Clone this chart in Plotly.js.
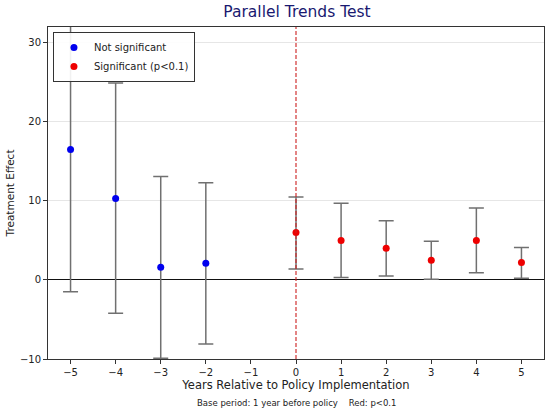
<!DOCTYPE html>
<html>
<head>
<meta charset="utf-8">
<script src="https://cdn.plot.ly/plotly-3.0.1.min.js"></script>
<style>html,body{margin:0;padding:0;background:#fff;}#chart{width:550px;height:412px;}</style>
</head>
<body>
<div id="chart"></div>
<script>
// Data
const years = [-5, -4, -3, -2, 0, 1, 2, 3, 4, 5];
const effects = [16.5, 10.3, 1.6, 2.1, 6.0, 5.0, 4.0, 2.5, 5.0, 2.2];
const ciLow = [-1.5, -4.2, -9.9, -8.1, 1.4, 0.3, 0.5, 0.1, 0.9, 0.2];
const ciHigh = [34.5, 24.9, 13.1, 12.3, 10.5, 9.7, 7.5, 4.9, 9.1, 4.1];
const significant = [false, false, false, false, true, true, true, true, true, true];
const xTicks = [-5, -4, -3, -2, -1, 0, 1, 2, 3, 4, 5];
const yTicks = [-10, 0, 10, 20, 30];
const policyYear = 0;

function subset(flag) {
  const idx = years.map((_, i) => i).filter(i => significant[i] === flag);
  return {
    x: idx.map(i => years[i]),
    y: idx.map(i => effects[i]),
    plus: idx.map(i => ciHigh[i] - effects[i]),
    minus: idx.map(i => effects[i] - ciLow[i])
  };
}

function makeTrace(flag, name, color) {
  const s = subset(flag);
  return {
    type: 'scatter', mode: 'markers', name: name,
    x: s.x, y: s.y,
    marker: {color: color, size: 7},
    error_y: {type: 'data', symmetric: false, array: s.plus, arrayminus: s.minus,
      color: '#707070', thickness: 1.5, width: 7.5}
  };
}

const traces = [
  makeTrace(false, 'Not significant', '#0000ee'),
  makeTrace(true, 'Significant (p<0.1)', '#ee0000')
];

const font = 'DejaVu Sans, sans-serif';
const minus = v => v < 0 ? '\u2212' + Math.abs(v) : String(v);
const layout = {
  width: 550, height: 412,
  margin: {l: 48, r: 6, t: 27, b: 53},
  paper_bgcolor: '#fff', plot_bgcolor: '#fff',
  font: {family: font, color: '#222', size: 10},
  title: {text: 'Parallel Trends Test', font: {family: font, size: 15.5, color: '#191970'},
    x: 0.54, xanchor: 'center', y: 0.972, yanchor: 'middle'},
  showlegend: true,
  legend: {x: 0.01, y: 0.985, xanchor: 'left', yanchor: 'top',
    bordercolor: '#333', borderwidth: 1, bgcolor: 'rgba(255,255,255,0.9)',
    font: {family: font, size: 10, color: '#222'}, tracegroupgap: 0,
    itemsizing: 'trace', itemwidth: 30},
  xaxis: {
    range: [-5.5, 5.5], tickvals: xTicks, ticktext: xTicks.map(minus),
    showgrid: false, zeroline: false,
    showline: true, linecolor: '#333', linewidth: 1, mirror: true,
    ticks: 'outside', ticklen: 4, tickcolor: '#333',
    tickfont: {family: font, size: 10, color: '#222'},
    title: {text: 'Years Relative to Policy Implementation', font: {family: font, size: 11.5, color: '#222'}, standoff: 3}
  },
  yaxis: {
    range: [-10, 32], tickvals: yTicks, ticktext: yTicks.map(minus),
    showgrid: true, gridcolor: '#e6e6e6', gridwidth: 1,
    zeroline: true, zerolinecolor: '#111', zerolinewidth: 1,
    showline: true, linecolor: '#333', linewidth: 1, mirror: true,
    ticks: 'outside', ticklen: 4, tickcolor: '#333',
    tickfont: {family: font, size: 10, color: '#222'},
    title: {text: 'Treatment Effect', font: {family: font, size: 10.5, color: '#222'}, standoff: 3}
  },
  shapes: [{
    type: 'line', xref: 'x', yref: 'paper', x0: policyYear, x1: policyYear, y0: 0, y1: 1,
    line: {color: '#cc1f1f', width: 1.1, dash: '4px,2px'}
  }],
  annotations: [{
    text: 'Base period: 1 year before policy    Red: p<0.1',
    xref: 'paper', yref: 'paper', x: 0.5, y: -0.133, xanchor: 'center', yanchor: 'middle',
    showarrow: false, font: {family: font, size: 8.5, color: '#222'}
  }]
};

Plotly.newPlot('chart', traces, layout, {displayModeBar: false, staticPlot: true});
</script>
</body>
</html>
